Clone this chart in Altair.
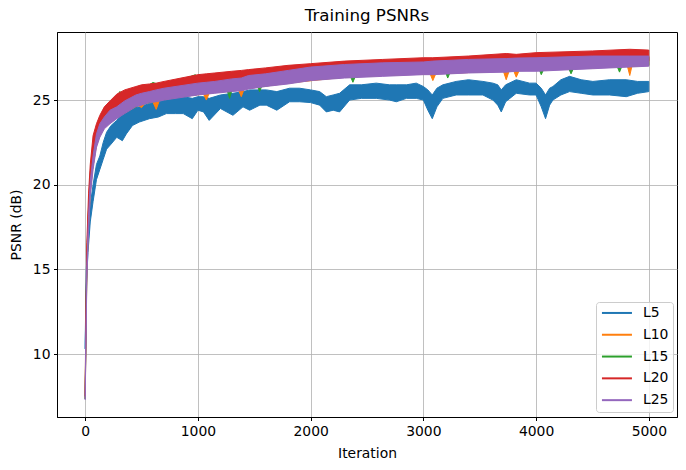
import altair as alt
import pandas as pd

# ---------------- data (noisy band envelopes) ----------------
# L5 (blue)
l5_iter = [0, 10, 25, 45, 70, 100, 130, 160, 190, 230, 280, 330, 365, 420, 480, 570, 650, 720, 800, 870,
           950, 1000, 1050, 1100, 1200, 1311, 1400, 1459, 1550, 1607, 1700, 1813, 1902, 2000, 2080, 2139,
           2200, 2257, 2346, 2450, 2582, 2700, 2760, 2850, 2937, 3000, 3040, 3079, 3120, 3173, 3291, 3400,
           3528, 3617, 3660, 3691, 3730, 3824, 3942, 4000, 4046, 4084, 4120, 4149, 4220, 4297, 4400, 4504,
           4652, 4800, 4900, 5000]
l5_lo = [10.3, 14.0, 16.0, 17.8, 19.0, 20.3, 20.9, 21.5, 22.1, 22.4, 22.8, 22.6, 23.0, 23.5, 23.7, 23.9, 24.0, 24.2, 24.2, 24.2,
         23.9, 24.4, 24.3, 23.8, 24.5, 24.1, 24.6, 24.4, 24.7, 24.7, 24.4, 24.9, 24.9, 24.85, 24.7, 24.3,
         24.4, 24.3, 25.0, 25.1, 25.1, 25.0, 24.9, 25.1, 25.1, 25.0, 24.4, 23.9, 24.6, 25.1, 25.3, 25.3,
         25.3, 25.0, 24.7, 24.3, 24.9, 25.4, 25.3, 25.3, 24.6, 23.9, 24.7, 25.0, 25.3, 25.5, 25.4, 25.3,
         25.3, 25.2, 25.4, 25.5]
l5_hi = [10.7, 15.0, 17.0, 18.8, 20.0, 21.2, 21.7, 22.5, 23.1, 23.5, 23.8, 24.2, 24.3, 24.5, 24.6, 24.8, 24.9, 25.0, 25.1, 25.2,
         25.1, 25.2, 25.2, 25.1, 25.3, 25.4, 25.5, 25.6, 25.6, 25.6, 25.5, 25.7, 25.7, 25.6, 25.5, 25.2,
         25.3, 25.4, 25.9, 25.9, 26.0, 25.9, 25.9, 25.9, 26.0, 25.8, 25.6, 25.3, 25.7, 25.9, 26.1, 26.2,
         26.1, 26.0, 25.9, 25.6, 25.9, 26.2, 26.0, 26.0, 25.7, 25.3, 25.7, 25.8, 26.2, 26.4, 26.2, 26.1,
         26.2, 26.2, 26.1, 26.1]

# L10 (orange)
l10_iter = [0, 5, 15, 30, 45, 70, 100, 130, 170, 220, 280, 350, 470, 500, 530, 600, 630, 660, 850, 1050,
            1075, 1100, 1360, 1385, 1410, 1800, 2300, 2640, 3060, 3084, 3110, 3710, 3735, 3760, 3800, 3824,
            3850, 4500, 4810, 4831, 4850, 5000]
l10_lo = [7.35, 9.8, 14.8, 17.6, 19.5, 21.1, 22.3, 22.9, 23.4, 23.7, 23.95, 24.25, 24.7, 24.55, 24.8, 24.9, 24.45, 25.0, 25.2, 25.35,
          25.0, 25.4, 25.6, 25.2, 25.65, 26.0, 26.35, 26.45, 26.55, 26.15, 26.55, 26.7, 26.2, 26.7, 26.75, 26.35,
          26.75, 26.9, 27.0, 26.45, 27.0, 27.05]
l10_hi = [7.6, 10.6, 15.6, 18.4, 20.3, 21.9, 23.0, 23.5, 24.0, 24.3, 24.5, 24.85, 25.2, 25.3, 25.35, 25.4, 25.5, 25.5, 25.75, 25.95,
          25.95, 26.0, 26.2, 26.2, 26.25, 26.65, 27.0, 27.1, 27.15, 27.2, 27.2, 27.35, 27.35, 27.35, 27.4, 27.4,
          27.4, 27.5, 27.5, 27.5, 27.5, 27.5]

# L15 (green)
l15_iter = [0, 5, 15, 30, 45, 70, 100, 130, 170, 220, 280, 306, 350, 500, 601, 700, 978, 1000, 1260, 1281,
            1300, 1530, 1547, 1565, 2000, 2355, 2375, 2395, 3000, 3200, 3216, 3235, 4030, 4046, 4065, 4290,
            4310, 4330, 4720, 4740, 4760, 5000]
l15_lo = [7.35, 10.0, 15.0, 17.8, 19.7, 21.3, 22.4, 23.0, 23.4, 23.7, 23.95, 24.05, 24.25, 24.75, 24.9, 25.05, 25.3, 25.35, 25.55, 25.1,
          25.55, 25.8, 25.5, 25.8, 26.2, 26.37, 26.05, 26.38, 26.55, 26.6, 26.3, 26.6, 26.77, 26.5, 26.78, 26.85,
          26.55, 26.85, 26.97, 26.65, 26.98, 27.05]
l15_hi = [7.7, 11.0, 16.0, 18.8, 20.7, 22.3, 23.3, 23.8, 24.3, 24.7, 25.1, 25.5, 25.3, 25.6, 26.04, 25.8, 26.5, 26.05, 26.2, 26.2,
          26.25, 26.5, 26.5, 26.5, 26.9, 27.05, 27.05, 27.05, 27.2, 27.3, 27.3, 27.3, 27.45, 27.45, 27.45, 27.5,
          27.5, 27.5, 27.55, 27.55, 27.55, 27.55]

# L20 (red) and L25 (purple) share one grid
top_iter = [0, 5, 15, 30, 45, 70, 100, 130, 170, 220, 280, 350, 450, 500, 570, 630, 700, 850, 1000, 1075,
            1150, 1300, 1385, 1450, 1600, 1800, 2000, 2300, 2640, 3000, 3084, 3400, 3735, 3824, 4000, 4500,
            4831, 5000]
l20_lo = [7.5, 10.6, 15.6, 18.6, 20.2, 22.0, 22.9, 23.3, 23.8, 24.2, 24.6, 24.85, 25.05, 25.15, 25.2, 25.3, 25.4, 25.6, 25.8, 25.85,
          25.9, 26.0, 26.05, 26.1, 26.2, 26.35, 26.45, 26.6, 26.7, 26.8, 26.8, 26.9, 27.0, 27.0, 27.1, 27.2,
          27.3, 27.3]
l20_hi = [7.9, 11.6, 16.6, 19.5, 21.2, 22.9, 23.6, 24.1, 24.6, 24.95, 25.35, 25.6, 25.8, 25.9, 25.95, 26.0, 26.1, 26.3, 26.5, 26.55,
          26.6, 26.7, 26.75, 26.8, 26.9, 27.05, 27.15, 27.3, 27.4, 27.5, 27.5, 27.6, 27.75, 27.7, 27.8, 27.9,
          28.0, 27.95]
l25_lo = [7.3, 9.6, 14.5, 17.3, 19.3, 20.9, 22.2, 22.8, 23.3, 23.6, 23.9, 24.2, 24.6, 24.7, 24.85, 24.9, 25.0, 25.15, 25.3, 25.35,
          25.4, 25.5, 25.55, 25.65, 25.8, 25.95, 26.15, 26.3, 26.4, 26.5, 26.5, 26.6, 26.65, 26.7, 26.7, 26.85,
          26.95, 27.0]
l25_hi = [7.4, 10.4, 15.3, 18.2, 20.2, 21.7, 23.0, 23.6, 24.0, 24.4, 24.6, 24.95, 25.3, 25.4, 25.5, 25.6, 25.7, 25.85, 26.0, 26.05,
          26.1, 26.25, 26.3, 26.45, 26.55, 26.75, 26.95, 27.1, 27.2, 27.25, 27.3, 27.4, 27.45, 27.48, 27.5, 27.6,
          27.6, 27.6]

series_names = ["L5", "L10", "L15", "L20", "L25"]
series_colors = ["#1f77b4", "#ff7f0e", "#2ca02c", "#d62728", "#9467bd"]
x_ticks = [0, 1000, 2000, 3000, 4000, 5000]
y_ticks = [10, 15, 20, 25]

bands = [
    ("L5", l5_iter, l5_lo, l5_hi),
    ("L10", l10_iter, l10_lo, l10_hi),
    ("L15", l15_iter, l15_lo, l15_hi),
    ("L20", top_iter, l20_lo, l20_hi),
    ("L25", top_iter, l25_lo, l25_hi),
]

FONT = "DejaVu Sans"
color_scale = alt.Scale(domain=series_names, range=series_colors)

x_enc = alt.X("iter:Q",
              scale=alt.Scale(domain=[-250, 5250], nice=False, zero=False),
              axis=alt.Axis(values=x_ticks, format="d", title="Iteration"))
# legend handle: a 30px horizontal line (custom unit path scaled by sqrt(size)/2 = 5)
legend = alt.Legend(title=None, orient="none", legendX=539, legendY=270,
                    symbolType="M-1,0H5", symbolSize=100, symbolStrokeWidth=2,
                    labelFontSize=13.9, labelFont=FONT, labelColor="black",
                    rowPadding=6.8, padding=4, labelOffset=29,
                    strokeColor="#cccccc", fillColor="rgba(255,255,255,0.8)",
                    cornerRadius=3)

layers = []
for name, it, lo, hi in bands:
    df = pd.DataFrame({"iter": it, "lo": lo, "hi": hi, "series": name})
    layer = alt.Chart(df).mark_area(strokeWidth=1, opacity=1, clip=True).encode(
        x=x_enc,
        y=alt.Y("lo:Q",
                scale=alt.Scale(domain=[6.28, 29.02], nice=False, zero=False),
                axis=alt.Axis(values=y_ticks, title="PSNR (dB)")),
        y2="hi:Q",
        fill=alt.Fill("series:N", scale=color_scale, legend=legend),
        stroke=alt.Stroke("series:N", scale=color_scale, legend=legend),
    )
    layers.append(layer)

chart = alt.layer(*layers).properties(
    width=620, height=385,
    padding={"left": 57, "top": 32, "right": 9, "bottom": 53},
    autosize=alt.AutoSizeParams(type="none"),
    title=alt.TitleParams("Training PSNRs", fontSize=16.7, fontWeight="normal",
                          font=FONT, color="black", offset=7, anchor="middle"),
).configure_view(
    stroke="black", strokeWidth=1
).configure_axis(
    grid=True, gridColor="#b0b0b0", gridWidth=0.8,
    domainColor="black", domainWidth=1, tickColor="black", tickSize=3.5,
    labelFont=FONT, labelFontSize=13.9, labelColor="black", labelPadding=3.5,
    titleFont=FONT, titleFontSize=13.9, titleColor="black", titleFontWeight="normal",
).configure_axisX(titlePadding=9).configure_axisY(titlePadding=9)

chart.save("out.html", embed_options={"renderer": "svg", "actions": False})
